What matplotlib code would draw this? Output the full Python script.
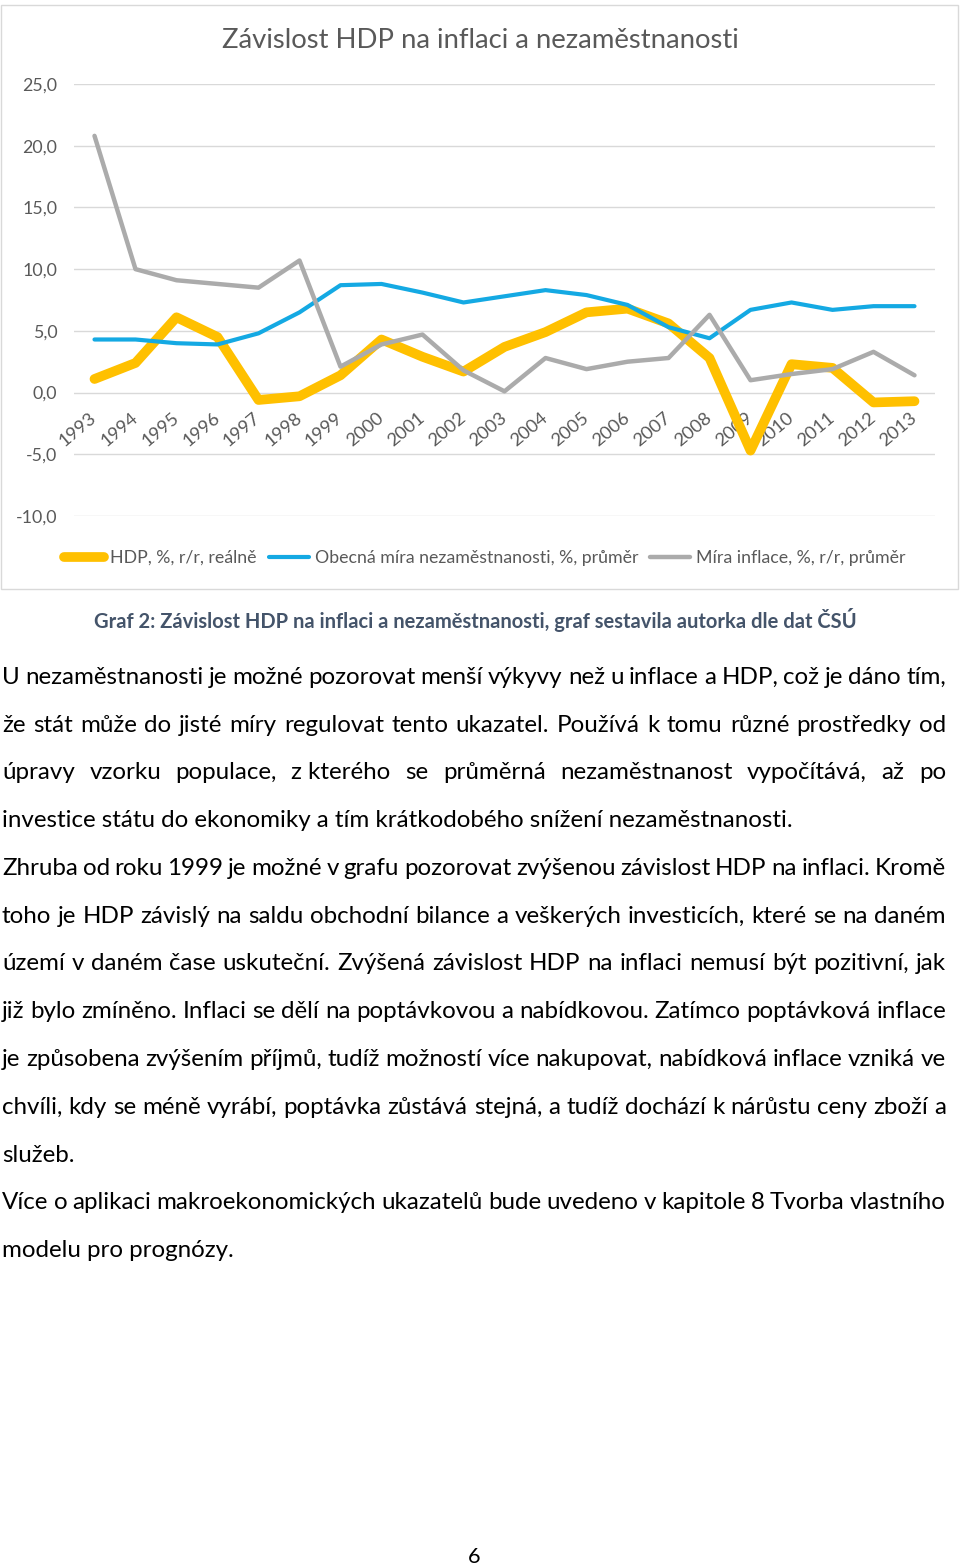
import matplotlib
matplotlib.use('Agg')
import matplotlib.pyplot as plt
from matplotlib.patches import Rectangle

# ---------------- data ----------------
years = [str(y) for y in range(1993, 2014)]
hdp = [1.1, 2.4, 6.1, 4.5, -0.6, -0.3, 1.4, 4.3, 2.9, 1.7, 3.7,
       4.9, 6.5, 6.8, 5.6, 2.8, -4.7, 2.3, 2.0, -0.8, -0.7]
unemp = [4.3, 4.3, 4.0, 3.9, 4.8, 6.5, 8.7, 8.8, 8.1, 7.3, 7.8,
         8.3, 7.9, 7.1, 5.3, 4.4, 6.7, 7.3, 6.7, 7.0, 7.0]
infl = [20.8, 10.0, 9.1, 8.8, 8.5, 10.7, 2.1, 3.9, 4.7, 1.8, 0.1,
        2.8, 1.9, 2.5, 2.8, 6.3, 1.0, 1.5, 1.9, 3.3, 1.4]
y_ticks = [-10, -5, 0, 5, 10, 15, 20, 25]
y_tick_labels = ["-10,0", "-5,0", "0,0", "5,0", "10,0", "15,0", "20,0", "25,0"]
series_names = ["HDP, %, r/r, reálně",
                "Obecná míra nezaměstnanosti, %, průměr",
                "Míra inflace, %, r/r, průměr"]
chart_title = "Závislost HDP na inflaci a nezaměstnanosti"
caption = "Graf 2: Závislost HDP na inflaci a nezaměstnanosti, graf sestavila autorka dle dat ČSÚ"
body_lines = [
    ("U nezaměstnanosti je možné pozorovat menší výkyvy než u inflace a HDP, což je dáno tím,", True),
    ("že stát může do jisté míry regulovat tento ukazatel. Používá k tomu různé prostředky od", True),
    ("úpravy vzorku populace, z\u00a0kterého se průměrná nezaměstnanost vypočítává, až po", True),
    ("investice státu do ekonomiky a tím krátkodobého snížení nezaměstnanosti.", False),
    ("Zhruba od roku 1999 je možné v grafu pozorovat zvýšenou závislost HDP na inflaci. Kromě", True),
    ("toho je HDP závislý na saldu obchodní bilance a veškerých investicích, které se na daném", True),
    ("území v daném čase uskuteční. Zvýšená závislost HDP na inflaci nemusí být pozitivní, jak", True),
    ("již bylo zmíněno. Inflaci se dělí na poptávkovou a nabídkovou. Zatímco poptávková inflace", True),
    ("je způsobena zvýšením příjmů, tudíž možností více nakupovat, nabídková inflace vzniká ve", True),
    ("chvíli, kdy se méně vyrábí, poptávka zůstává stejná, a tudíž dochází k nárůstu ceny zboží a", True),
    ("služeb.", False),
    ("Více o aplikaci makroekonomických ukazatelů bude uvedeno v kapitole 8 Tvorba vlastního", True),
    ("modelu pro prognózy.", False),
]
page_number = "6"

# ---------------- layout ----------------
W, H = 960, 1565
fig = plt.figure(figsize=(W / 100, H / 100), dpi=100)
fig.patch.set_facecolor('white')
FONT = 'Lato'
GREY_TXT = '#595959'

def fx(x):
    return x / W

def fy(y):
    return 1 - y / H

renderer = fig.canvas.get_renderer()

def text_width(s, size, **kw):
    t = fig.text(0, 0, s, fontsize=size, family=FONT, **kw)
    w = t.get_window_extent(renderer).width
    t.remove()
    return w

def fit_size(s, target, **kw):
    return 20 * target / text_width(s, 20, **kw)

# chart frame
fig.patches.append(Rectangle((fx(1), fy(589)), fx(957), 584 / H,
                             transform=fig.transFigure, fill=False,
                             ec='#D9D9D9', lw=1.0))

ax = fig.add_axes([fx(74), fy(516), (935 - 74) / W, (516 - 84) / H])
x = list(range(len(years)))
l1, = ax.plot(x, hdp, color='#FFC000', lw=7, solid_capstyle='round',
              solid_joinstyle='round', zorder=3)
l2, = ax.plot(x, unemp, color='#14A9E3', lw=3, solid_capstyle='round',
              solid_joinstyle='round', zorder=4)
l3, = ax.plot(x, infl, color='#ABABAB', lw=3.2, solid_capstyle='round',
              solid_joinstyle='round', zorder=5)
ax.set_xlim(-0.5, len(years) - 0.5)
ax.set_ylim(-10, 25)
ax.spines['bottom'].set_position(('data', 0))
for sp in ax.spines.values():
    sp.set_visible(False)
ax.tick_params(axis='both', length=0)
ax.tick_params(axis='y', pad=12)
ax.tick_params(axis='x', pad=17)

tick_fs = fit_size("25,0", 35)
ax.set_yticks(y_ticks)
ax.set_yticklabels(y_tick_labels)
ax.set_xticks(x)
ax.set_xticklabels(years)
for lab in ax.get_yticklabels():
    lab.set_fontsize(tick_fs)
    lab.set_family(FONT)
    lab.set_color(GREY_TXT)
for lab in ax.get_xticklabels():
    lab.set_fontsize(tick_fs * 1.03)
    lab.set_family(FONT)
    lab.set_color(GREY_TXT)
    lab.set_rotation(40)
    lab.set_ha('right')
    lab.set_va('center')
    lab.set_rotation_mode('anchor')
ax.grid(axis='y', color='#D9D9D9', lw=1.0)
ax.set_axisbelow(True)
ax.set_facecolor('none')

# chart title
title_fs = fit_size(chart_title, 518)
fig.text(fx(480), fy(41), chart_title, fontsize=title_fs, family=FONT,
         color=GREY_TXT, ha='center', va='center')

# legend
leg_fs = fit_size(series_names[0], 147)
leg_px = leg_fs * 100 / 72
fig.legend([l1, l2, l3], series_names, loc='center',
           bbox_to_anchor=(fx(485), fy(558)), ncol=3, frameon=False,
           prop={'family': FONT, 'size': leg_fs}, labelcolor=GREY_TXT,
           handlelength=40 / leg_px, handletextpad=6 / leg_px,
           columnspacing=12 / leg_px, borderpad=0, borderaxespad=0)

# caption
cap_fs = fit_size(caption, 764, weight='bold')
fig.text(fx(475), fy(620), caption, fontsize=cap_fs, family=FONT,
         weight='bold', color='#44546A', ha='center', va='center')

# body text (justified)
body_fs = fit_size(body_lines[3][0], 794)
left, right = 2, 946
base0, step = 684, 47.75
for i, (line, just) in enumerate(body_lines):
    yb = base0 + i * step
    words = line.split(' ')
    if just and len(words) > 1:
        widths = [text_width(w.replace('\u00a0', ' '), body_fs) for w in words]
        gap = (right - left - sum(widths)) / (len(words) - 1)
        xp = left
        for w, wd in zip(words, widths):
            fig.text(fx(xp), fy(yb), w.replace('\u00a0', ' '), fontsize=body_fs,
                     family=FONT, color='black', ha='left', va='baseline')
            xp += wd + gap
    else:
        fig.text(fx(left), fy(yb), line.replace('\u00a0', ' '), fontsize=body_fs,
                 family=FONT, color='black', ha='left', va='baseline')

fig.text(fx(474), fy(1563), page_number, fontsize=body_fs * 0.9, family=FONT,
         color='black', ha='center', va='baseline')

fig.savefig('out.png', dpi=100)
